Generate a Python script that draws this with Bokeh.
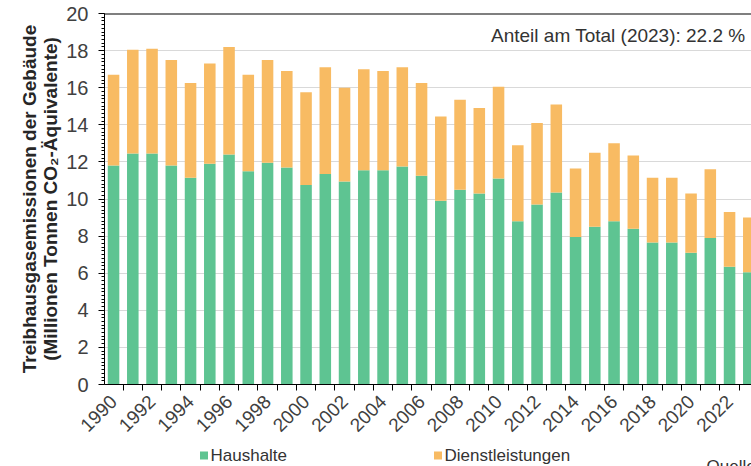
from math import pi
from bokeh.plotting import figure
from bokeh.layouts import column
from bokeh.core.properties import value
from bokeh.models import (ColumnDataSource, FixedTicker, SingleIntervalTicker,
                          Label, Range1d, Span)
from bokeh.embed import file_html
from bokeh.resources import INLINE

years = list(range(1990, 2024))
haushalte = [11.8, 12.45, 12.45, 11.8, 11.15, 11.9, 12.4, 11.5, 11.95, 11.7,
             10.75, 11.35, 10.95, 11.55, 11.55, 11.75, 11.25, 9.9, 10.5, 10.3,
             11.1, 8.8, 9.7, 10.35, 7.95, 8.5, 8.8, 8.4, 7.65, 7.65,
             7.1, 7.9, 6.35, 6.05]
dienstleistungen = [4.9, 5.6, 5.65, 5.7, 5.1, 5.4, 5.8, 5.2, 5.55, 5.2,
                    5.0, 5.75, 5.05, 5.45, 5.35, 5.35, 5.0, 4.55, 4.85, 4.6,
                    4.95, 4.1, 4.4, 4.75, 3.7, 4.0, 4.2, 3.95, 3.5, 3.5,
                    3.2, 3.7, 2.95, 2.95]
tick_years = list(range(1990, 2023, 2))
series_names = ["Haushalte", "Dienstleistungen"]
annotation = "Anteil am Total (2023): 22.2 %"
y_title = "Treibhausgasemissionen der Gebäude\n(Millionen Tonnen CO₂-Äquivalente)"
source_note = "Quelle: BAFU"

GREEN = "#5ec492"
ORANGE = "#f8bb63"
FONT = "Liberation Sans"

src = ColumnDataSource(dict(year=years, haushalte=haushalte, dienst=dienstleistungen))

p = figure(width=751, height=442, output_backend="svg", toolbar_location=None,
           x_range=Range1d(1989.53, 2023.14), y_range=Range1d(0, 20),
           min_border_left=104, min_border_right=0, min_border_top=13,
           min_border_bottom=58)
p.background_fill_color = "white"
p.border_fill_color = "white"
p.outline_line_color = None

rs = p.vbar_stack(["haushalte", "dienst"], x="year", width=0.6,
                  color=[GREEN, ORANGE], line_color=None, source=src)

p.xgrid.visible = False
p.ygrid.grid_line_color = "#d9d9d9"
p.ygrid.grid_line_width = 1

p.add_layout(Span(location=20, dimension="width", line_color="black", line_width=2))

# y axis
ya = p.yaxis[0]
ya.ticker = SingleIntervalTicker(interval=2, num_minor_ticks=10)
ya.axis_line_color = "black"
ya.major_tick_line_color = "black"
ya.minor_tick_line_color = "black"
ya.major_tick_out = 6
ya.major_tick_in = 0
ya.minor_tick_out = 3
ya.minor_tick_in = 0
ya.major_label_text_font = FONT
ya.major_label_text_font_size = "20px"
ya.major_label_text_color = "#404040"
ya.major_label_standoff = 10
ya.axis_label = y_title
ya.axis_label_text_font = FONT
ya.axis_label_text_font_style = "bold"
ya.axis_label_text_font_size = "19px"
ya.axis_label_text_line_height = 1.0
ya.axis_label_text_color = "#262626"
ya.axis_label_standoff = 2

# x axis
xa = p.xaxis[0]
xa.ticker = FixedTicker(ticks=tick_years,
                        minor_ticks=[y - 0.5 for y in years] + [years[-1] + 0.5])
xa.axis_line_color = "black"
xa.major_tick_line_color = None
xa.minor_tick_line_color = "black"
xa.minor_tick_out = 6
xa.minor_tick_in = 0
xa.major_label_orientation = pi / 4
xa.major_label_text_font = FONT
xa.major_label_text_font_size = "19px"
xa.major_label_text_color = "#404040"
xa.major_label_standoff = 8

p.add_layout(Label(x=2022.83, y=18.8, text=annotation, text_align="right",
                   text_baseline="middle", text_font=FONT,
                   text_font_size="19px", text_color="#333333"))

# legend strip below the chart; its frame is aligned with the chart frame,
# so its x range is expressed in page pixels (104 .. 751)
leg = figure(width=751, height=24, output_backend="svg", toolbar_location=None,
             x_range=Range1d(104, 751), y_range=Range1d(0, 24),
             x_axis_type=None, y_axis_type=None, min_border=0)
leg.outline_line_color = None
leg.grid.visible = False
leg_x = [203.5, 437.5]
leg.scatter(x=leg_x, y=[11, 11], marker="square", size=8,
            color=[GREEN, ORANGE], line_color=None)
leg.text(x=[x + 6.5 for x in leg_x], y=[11, 11], text=series_names,
         text_baseline="middle", text_align="left", text_font=value(FONT),
         text_font_size="17px", text_color="#333333")
leg.add_layout(Label(x=706, y=10, text=source_note, text_align="left",
                     text_baseline="top", text_font=FONT,
                     text_font_size="17px", text_color="#333333"))

open("out.html", "w").write(file_html(column(p, leg, spacing=0), INLINE))
